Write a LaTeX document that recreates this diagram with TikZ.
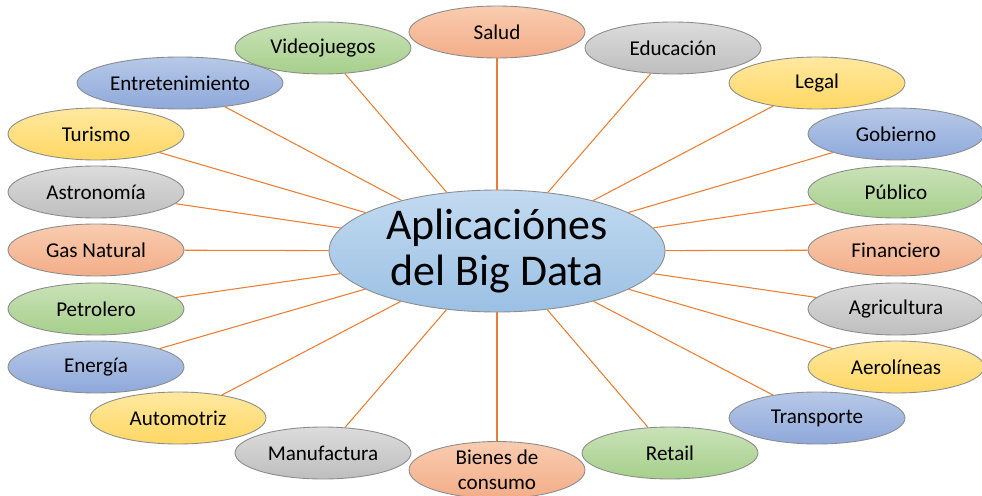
\documentclass[tikz,border=0pt]{standalone}
\usepackage{fontspec}
\setmainfont{Carlito}
\usepackage{xcolor}
\usetikzlibrary{shapes,shapes.geometric,positioning}

\definecolor{orTop}{HTML}{F9CCB0}
\definecolor{orBot}{HTML}{F3AD88}
\definecolor{grTop}{HTML}{C9E2B8}
\definecolor{grBot}{HTML}{A6CF8B}
\definecolor{gyTop}{HTML}{DCDCDC}
\definecolor{gyBot}{HTML}{BEBEBE}
\definecolor{blTop}{HTML}{B7C9E8}
\definecolor{blBot}{HTML}{8EA8DA}
\definecolor{ylTop}{HTML}{FFE8A0}
\definecolor{ylBot}{HTML}{FFD763}
\definecolor{cnTop}{HTML}{C2DAF0}
\definecolor{cnBot}{HTML}{9BC0E4}
\definecolor{linkc}{HTML}{ED7D31}

\begin{document}
\begin{tikzpicture}[x=0.02cm, y=-0.02cm]
    \tikzstyle{bubble} = [ellipse, draw=black!45, line width=0.5pt, minimum width=3.52cm, minimum height=1.04cm, inner sep=0pt, align=center, font=\fontsize{12}{14.5}\selectfont]
    \tikzstyle{orange} = [bubble, top color=orTop, bottom color=orBot]
    \tikzstyle{green} = [bubble, top color=grTop, bottom color=grBot]
    \tikzstyle{grey} = [bubble, top color=gyTop, bottom color=gyBot]
    \tikzstyle{blue} = [bubble, top color=blTop, bottom color=blBot]
    \tikzstyle{yellow} = [bubble, top color=ylTop, bottom color=ylBot]
    \tikzstyle{link} = [draw=linkc, line width=0.6pt]

    \useasboundingbox (0,0) rectangle (982,496);

    \node [ellipse, draw=black!45, line width=0.5pt, top color=cnTop, bottom color=cnBot, minimum width=6.72cm, minimum height=2.44cm, inner sep=0pt, inner ysep=-4pt, align=center, font=\fontsize{25}{26}\selectfont] (big) at (497,251) {Aplicaciónes\\del Big Data};

    % upper half
    \node [orange] (salud) at (497,32) {Salud};
    \node [green] (video) at (323,48) {Videojuegos};
    \node [grey] (edu) at (673,48) {Educación};
    \node [blue, minimum width=4.12cm] (entre) at (180,83) {Entretenimiento};
    \node [yellow] (legal) at (817,83) {Legal};
    \node [yellow] (turismo) at (96,134) {Turismo};
    \node [blue] (gob) at (896,134) {Gobierno};
    \node [grey] (astro) at (96,192) {Astronomía};
    \node [green] (pub) at (896,192) {Público};

    % middle
    \node [orange] (gas) at (96,250) {Gas Natural};
    \node [orange] (fin) at (896,250) {Financiero};

    % lower half
    \node [green] (petro) at (96,309) {Petrolero};
    \node [grey] (agri) at (896,309) {Agricultura};
    \node [blue] (ener) at (96,367) {Energía};
    \node [yellow] (aero) at (896,367) {Aerolíneas};
    \node [yellow] (auto) at (178,418) {Automotriz};
    \node [blue] (trans) at (817,418) {Transporte};
    \node [grey] (manu) at (323,453) {Manufactura};
    \node [green] (retail) at (670,453) {Retail};
    \node [orange] (bienes) at (497,470) {Bienes de\\consumo};

    \foreach \n in {salud,video,edu,entre,legal,turismo,gob,astro,pub,gas,fin,petro,agri,ener,aero,auto,trans,manu,retail,bienes}
        \draw [link] (big) -- (\n);
\end{tikzpicture}
\end{document}
